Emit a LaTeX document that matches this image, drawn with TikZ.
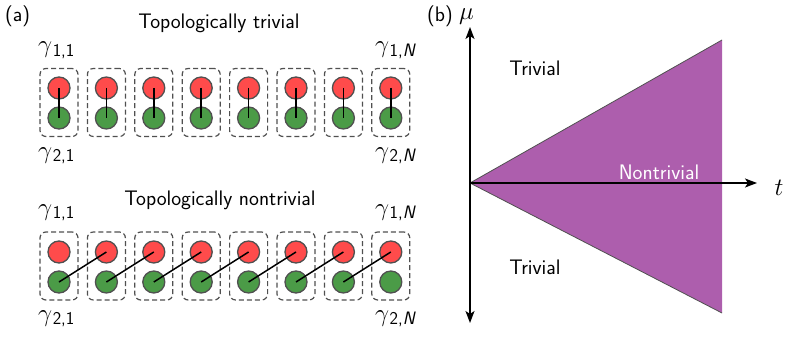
\RequirePackage{fix-cm}
\documentclass[tikz,border=0pt]{standalone}
\usepackage{fontspec}
\usetikzlibrary{arrows.meta}
\definecolor{cred}{HTML}{FF4B4B}
\definecolor{cgreen}{HTML}{4B9B47}
\definecolor{cedge}{HTML}{505050}
\definecolor{cpurple}{HTML}{AD5EAD}
\newcommand{\gsub}[1]{{\fontsize{25}{28}\selectfont$\gamma$}\kern0.5pt\raisebox{-3.5pt}{\fontsize{18}{20}\selectfont\sffamily #1}}
\begin{document}
\begin{tikzpicture}[x=1pt,y=-1pt,
  >={Stealth[length=12pt,width=9pt,inset=3pt]},
  every node/.style={font=\fontsize{21}{24}\selectfont\sffamily, inner sep=0pt},
  cellbox/.style={draw=cedge, dashed, dash pattern=on 5pt off 3pt, line width=1.2pt, rounded corners=6pt, minimum width=38pt, minimum height=68pt},
  redball/.style={circle, fill=cred, draw=cedge, line width=1.3pt, minimum size=22pt},
  greenball/.style={circle, fill=cgreen, draw=cedge, line width=1.3pt, minimum size=22pt},
  bond/.style={line width=1.5pt, black},
  axis/.style={line width=1.5pt, black},
  bigmath/.style={font=\fontsize{25}{27}\selectfont}
]
\useasboundingbox (0,0) rectangle (785,337);
% panel labels
\node[anchor=west] (la) at (5,16) {(a)};
\node[anchor=west] (lb) at (427,16) {(b)};
\node[anchor=base west, bigmath] (mu) at (459,19.5) {$\mu$};
% titles
\node[anchor=base] (t1) at (219,29) {Topologically trivial};
\node[anchor=base] (t2) at (220,205) {Topologically nontrivial};
% cells
\foreach \i in {1,...,8} {
  \pgfmathsetmacro{\cx}{59+47.4*(\i-1)}
  \node[cellbox] (ba\i) at (\cx,102.5) {};
  \node[redball] (r\i) at (\cx,88) {};
  \node[greenball] (g\i) at (\cx,118) {};
  \node[cellbox] (bb\i) at (\cx,266) {};
  \node[redball] (R\i) at (\cx,252) {};
  \node[greenball] (G\i) at (\cx,282) {};
}
\foreach \i in {1,...,8} {
  \draw[bond] (r\i.center) -- (g\i.center);
}
\foreach \i [evaluate=\i as \j using int(\i+1)] in {1,...,7} {
  \draw[bond] (G\i.center) -- (R\j.center);
}
% gamma labels
\node[anchor=base west] (ga11) at (38,53) {\gsub{1,1}};
\node[anchor=base east] (ga1N) at (416,53) {\gsub{1,\textit{N}}};
\node[anchor=base west] (ga21) at (38,158) {\gsub{2,1}};
\node[anchor=base east] (ga2N) at (416,158) {\gsub{2,\textit{N}}};
\node[anchor=base west] (gb11) at (38,215) {\gsub{1,1}};
\node[anchor=base east] (gb1N) at (416,215) {\gsub{1,\textit{N}}};
\node[anchor=base west] (gb21) at (38,321) {\gsub{2,1}};
\node[anchor=base east] (gb2N) at (416,321) {\gsub{2,\textit{N}}};
% panel b
\coordinate (O) at (470,183);
\coordinate (TR) at (722,40);
\coordinate (BR) at (722,313);
\coordinate (ytop) at (470,27);
\coordinate (ybot) at (470,323);
\coordinate (xend) at (757,183);
\fill[cpurple] (O) -- (TR) -- (BR) -- cycle;
\draw[cedge, line width=0.8pt] (TR) -- (O) -- (BR);
\draw[axis, <->] (ytop) -- (ybot);
\draw[axis, ->] (O) -- (xend);
\node[anchor=base, bigmath] (tl) at (779,195) {$t$};
\node (triv1) at (535,68) {Trivial};
\node (triv2) at (535,267) {Trivial};
\node[text=white] (ntriv) at (659,172) {Nontrivial};
\end{tikzpicture}
\end{document}
